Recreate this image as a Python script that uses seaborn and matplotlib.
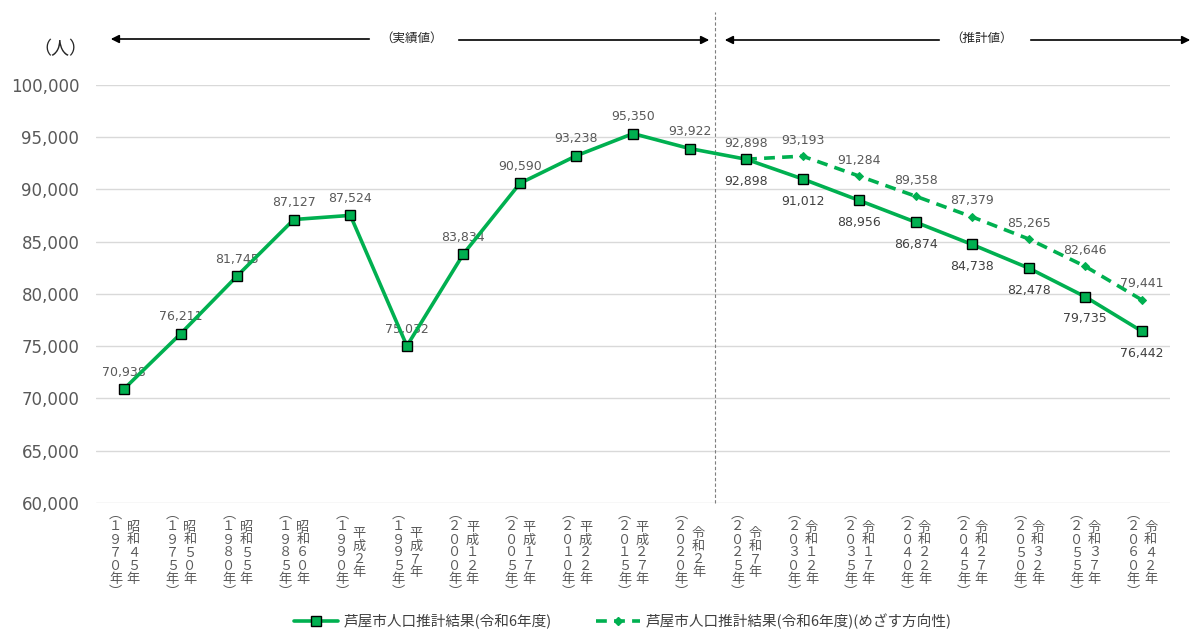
import numpy as np
import pandas as pd
import seaborn as sns
import matplotlib.pyplot as plt
from matplotlib.lines import Line2D

# data
years = ["１９７０", "１９７５", "１９８０", "１９８５", "１９９０", "１９９５", "２０００",
         "２００５", "２０１０", "２０１５", "２０２０", "２０２５", "２０３０", "２０３５",
         "２０４０", "２０４５", "２０５０", "２０５５", "２０６０"]
wareki = ["昭和４５年", "昭和５０年", "昭和５５年", "昭和６０年", "平成２年", "平成７年",
          "平成１２年", "平成１７年", "平成２２年", "平成２７年", "令和２年", "令和７年",
          "令和１２年", "令和１７年", "令和２２年", "令和２７年", "令和３２年", "令和３７年",
          "令和４２年"]
population = [70938, 76211, 81745, 87127, 87524, 75032, 83834, 90590, 93238, 95350,
              93922, 92898, 91012, 88956, 86874, 84738, 82478, 79735, 76442]
target = [np.nan] * 11 + [92898, 93193, 91284, 89358, 87379, 85265, 82646, 79441]
label_main = "芦屋市人口推計結果(令和6年度)"
label_target = "芦屋市人口推計結果(令和6年度)(めざす方向性)"

df = pd.DataFrame({"idx": range(len(years)), "pop": population, "target": target})

sns.set_style("white")
plt.rcParams["font.family"] = ["DejaVu Sans", "Noto Sans CJK JP"]

green = "#00B050"
gray = "#595959"

fig = plt.figure(figsize=(11.96, 6.34), dpi=100)
W, H = 1196, 634
ax = fig.add_axes([96 / W, (H - 503) / H, (1170 - 96) / W, (503 - 85) / H])

sns.lineplot(data=df, x="idx", y="target", ax=ax, color=green, lw=2.6,
             dashes=False, linestyle=(0, (3, 2)), marker="D", markersize=4.5,
             markeredgecolor=green, zorder=3)
sns.lineplot(data=df, x="idx", y="pop", ax=ax, color=green, lw=2.6,
             marker="s", markersize=6.5, markerfacecolor=green,
             markeredgecolor="black", markeredgewidth=1, zorder=4)

ax.set_xlim(-0.5, len(years) - 0.5)
ax.set_ylim(60000, 100000)
ax.set_yticks(range(60000, 100001, 5000))
ax.set_yticklabels([f"{v:,}" for v in range(60000, 100001, 5000)], fontsize=12, color=gray)
ax.set_xticks(range(len(years)))
ax.set_xticklabels([])
ax.tick_params(axis="both", length=0, pad=12)
ax.yaxis.grid(True, color="#d9d9d9", lw=1)
ax.set_xlabel("")
ax.set_ylabel("")
for s in ax.spines.values():
    s.set_visible(False)

# data labels
for i, v in enumerate(population):
    if i <= 10:
        ax.annotate(f"{v:,}", (i, v), xytext=(0, 12), textcoords="offset points",
                    ha="center", va="center", fontsize=9, color=gray)
    else:
        ax.annotate(f"{v:,}", (i, v), xytext=(0, -16), textcoords="offset points",
                    ha="center", va="center", fontsize=9, color="#404040")
for i, v in enumerate(target):
    if not np.isnan(v):
        ax.annotate(f"{v:,.0f}", (i, v), xytext=(0, 11.5), textcoords="offset points",
                    ha="center", va="center", fontsize=9, color=gray)

# vertical tick labels
tr = ax.get_xaxis_transform()
yc = (503 - 553) / 418
for i, (y, w) in enumerate(zip(years, wareki)):
    col1 = "\n".join(["︵"] + list(y) + ["年", "︶"])
    col2 = "\n".join(list(w))
    ax.text(i - 0.15, yc, col1, transform=tr, ha="center", va="center", fontsize=9.5,
            linespacing=1.0, color=gray, family=["Noto Sans CJK JP"])
    ax.text(i + 0.16, yc, col2, transform=tr, ha="center", va="center", fontsize=9.5,
            linespacing=1.0, color=gray, family=["Noto Sans CJK JP"])

# divider and period arrows
ax.plot([10.45, 10.45], [60000, 100000 + 73 / 418 * 40000], transform=ax.transData,
        color="#7f7f7f", lw=0.8, ls=(0, (3, 2)), clip_on=False)

def arrow(x0, x1, y):
    fig.add_artist(plt.matplotlib.patches.FancyArrowPatch(
        (x0 / W, 1 - y / H), (x1 / W, 1 - y / H), transform=fig.transFigure,
        arrowstyle="-|>", mutation_scale=12, color="black", lw=1.2))

arrow(372, 108, 39)
arrow(456, 712, 40)
arrow(942, 722, 40)
arrow(1028, 1193, 40)
fig.text(412 / W, 1 - 38 / H, "（実績値）", ha="center", va="center", fontsize=9,
         family=["Noto Sans CJK JP"], color="#262626")
fig.text(982 / W, 1 - 38 / H, "（推計値）", ha="center", va="center", fontsize=9,
         family=["Noto Sans CJK JP"], color="#262626")
fig.text(60 / W, 1 - 49 / H, "（人）", ha="center", va="center", fontsize=13,
         family=["Noto Sans CJK JP"], color="#262626")

handles = [
    Line2D([], [], color=green, lw=2.6, marker="s", markersize=6.5,
           markerfacecolor=green, markeredgecolor="black"),
    Line2D([], [], color=green, lw=2.6, ls=(0, (3, 2)), marker="D", markersize=4.5),
]
fig.legend(handles, [label_main, label_target], loc="center", bbox_to_anchor=(623 / W, 1 - 621 / H),
           ncol=2, frameon=False, handlelength=3, handletextpad=0.4, columnspacing=3,
           prop={"family": ["Noto Sans CJK JP"], "size": 10.5}, labelcolor="#404040")

fig.savefig("out.png", dpi=100)
